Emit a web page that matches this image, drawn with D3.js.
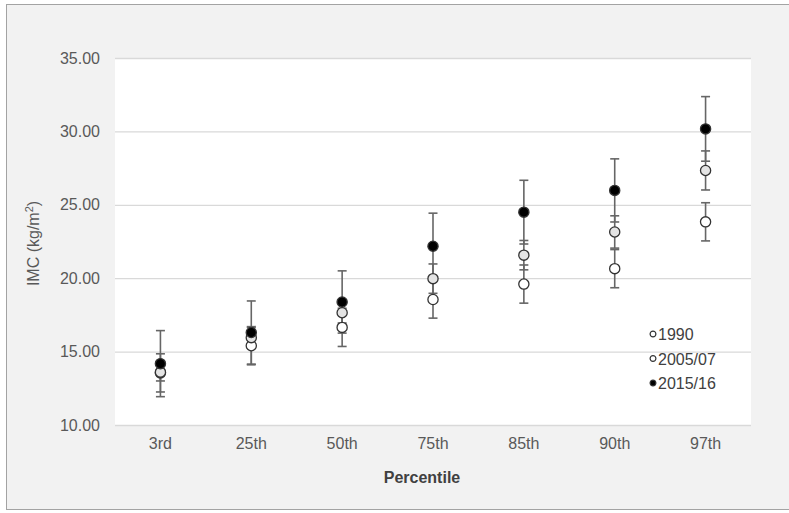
<!DOCTYPE html>
<html>
<head>
<meta charset="utf-8">
<script src="https://cdn.jsdelivr.net/npm/d3@7"></script>
<style>
  html, body { margin: 0; padding: 0; background: #ffffff; }
  svg { display: block; font-family: "Liberation Sans", Arial, sans-serif; }
</style>
</head>
<body>
<svg id="chart" width="789" height="513"></svg>
<script>
// Percentile categories (x axis)
const categories = ["3rd", "25th", "50th", "75th", "85th", "90th", "97th"];

// BMI by percentile for each survey, with symmetric error bar half-widths
const imc1990 = [13.55, 15.40, 16.65, 18.55, 19.60, 20.65, 23.84];
const err1990 = [1.30, 1.30, 1.30, 1.27, 1.30, 1.30, 1.30];

const imc2005 = [13.60, 15.95, 17.65, 19.97, 21.57, 23.15, 27.34];
const err2005 = [0.60, 0.70, 0.70, 1.00, 1.00, 1.10, 1.33];

const imc2015 = [14.18, 16.30, 18.38, 22.18, 24.50, 25.98, 30.17];
const err2015 = [2.25, 2.15, 2.12, 2.25, 2.17, 2.15, 2.20];

const yTicks = [10, 15, 20, 25, 30, 35];
const seriesNames = ["1990", "2005/07", "2015/16"];

const series = [
  { name: seriesNames[0], values: imc1990, errors: err1990, fill: "#ffffff" },
  { name: seriesNames[1], values: imc2005, errors: err2005, fill: "#e4e4e4" },
  { name: seriesNames[2], values: imc2015, errors: err2015, fill: "#000000" }
];

const svg = d3.select("#chart");
const W = 789, H = 513;
const plot = { left: 115, right: 751, top: 58, bottom: 425 };

// Chart background and frame
svg.append("rect")
  .attr("x", 6.5).attr("y", 4.5)
  .attr("width", W + 10).attr("height", H - 8)
  .attr("fill", "#f2f2f2")
  .attr("stroke", "#a3a3a3").attr("stroke-width", 1);

// Plot area
svg.append("rect")
  .attr("x", plot.left).attr("y", plot.top)
  .attr("width", plot.right - plot.left).attr("height", plot.bottom - plot.top)
  .attr("fill", "#ffffff");

const x = d3.scaleBand().domain(categories).range([plot.left, plot.right]);
const cx = c => x(c) + x.bandwidth() / 2;
const y = d3.scaleLinear().domain([10, 35]).range([plot.bottom, plot.top]);

// Horizontal gridlines + y tick labels
const yAxis = d3.axisLeft(y)
  .tickValues(yTicks)
  .tickFormat(d3.format(".2f"))
  .tickSize(-(plot.right - plot.left))
  .tickPadding(15);

const gy = svg.append("g")
  .attr("transform", `translate(${plot.left},0)`)
  .call(yAxis);
gy.select(".domain").remove();
gy.selectAll(".tick line").attr("stroke", "#d9d9d9").attr("stroke-width", 1.3);
gy.selectAll(".tick text")
  .attr("fill", "#595959")
  .style("font-size", "16px");

// X axis labels
const xAxis = d3.axisBottom(x).tickSize(0).tickPadding(13);
const gx = svg.append("g")
  .attr("transform", `translate(0,${plot.bottom})`)
  .call(xAxis);
gx.select(".domain").remove();
gx.selectAll(".tick text")
  .attr("fill", "#595959")
  .style("font-size", "16px");

// Axis titles
svg.append("text")
  .attr("x", 422).attr("y", 483)
  .attr("text-anchor", "middle")
  .attr("fill", "#404040")
  .style("font-size", "16px")
  .style("font-weight", "bold")
  .text("Percentile");

const yTitle = svg.append("text")
  .attr("transform", `translate(39,${(plot.top + plot.bottom) / 2 + 2}) rotate(-90)`)
  .attr("text-anchor", "middle")
  .attr("fill", "#595959")
  .style("font-size", "16px");
yTitle.append("tspan").text("IMC (kg/m");
yTitle.append("tspan").attr("dy", -6).style("font-size", "11px").text("2");
yTitle.append("tspan").attr("dy", 6).text(")");

// Error bars for all series (drawn under markers)
const capHalf = 4.5;
const errG = svg.append("g")
  .attr("stroke", "#666666")
  .attr("stroke-width", 1.6)
  .attr("fill", "none");

series.forEach(s => {
  const rows = categories.map((c, i) => ({ c, v: s.values[i], e: s.errors[i] }));
  const g = errG.append("g");
  g.selectAll("line.stem").data(rows).join("line")
    .attr("class", "stem")
    .attr("x1", d => cx(d.c)).attr("x2", d => cx(d.c))
    .attr("y1", d => y(d.v + d.e)).attr("y2", d => y(d.v - d.e));
  g.selectAll("line.capHi").data(rows).join("line")
    .attr("class", "capHi")
    .attr("x1", d => cx(d.c) - capHalf).attr("x2", d => cx(d.c) + capHalf)
    .attr("y1", d => y(d.v + d.e)).attr("y2", d => y(d.v + d.e));
  g.selectAll("line.capLo").data(rows).join("line")
    .attr("class", "capLo")
    .attr("x1", d => cx(d.c) - capHalf).attr("x2", d => cx(d.c) + capHalf)
    .attr("y1", d => y(d.v - d.e)).attr("y2", d => y(d.v - d.e));
});

// Markers
series.forEach(s => {
  svg.append("g").selectAll("circle")
    .data(categories.map((c, i) => ({ c, v: s.values[i] })))
    .join("circle")
    .attr("cx", d => cx(d.c))
    .attr("cy", d => y(d.v))
    .attr("r", 5.1)
    .attr("fill", s.fill)
    .attr("stroke", "#333333")
    .attr("stroke-width", 1.3);
});

// Legend
const legend = svg.append("g").attr("transform", "translate(653,334)");
series.forEach((s, i) => {
  const row = legend.append("g").attr("transform", `translate(0,${i * 24.5})`);
  row.append("circle")
    .attr("r", 2.9)
    .attr("fill", s.fill === "#000000" ? "#000000" : "#ffffff")
    .attr("stroke", "#333333")
    .attr("stroke-width", 1.2);
  row.append("text")
    .attr("x", 5).attr("y", 6)
    .attr("fill", "#404040")
    .style("font-size", "16px")
    .text(s.name);
});
</script>
</body>
</html>
